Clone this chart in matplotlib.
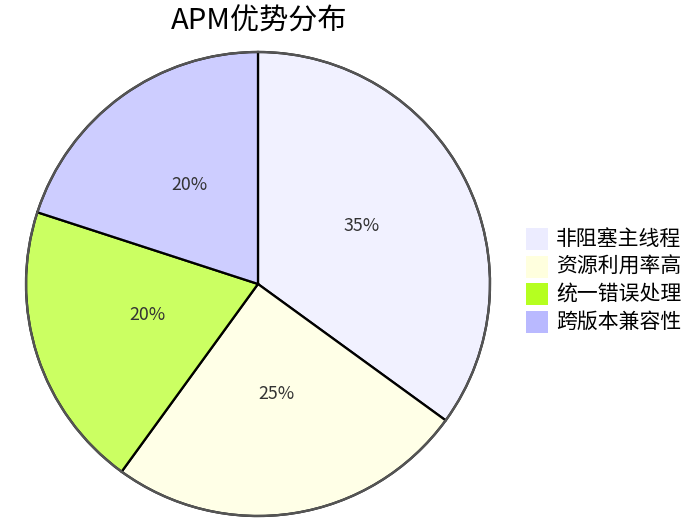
import matplotlib.pyplot as plt
from matplotlib.colors import to_rgba
from matplotlib.patches import Circle, Rectangle

plt.rcParams['font.family'] = ['Noto Sans CJK SC', 'DejaVu Sans']

title = 'APM优势分布'
labels = ['非阻塞主线程', '资源利用率高', '统一错误处理', '跨版本兼容性']
values = [35, 25, 20, 20]
colors = ['#ececff', '#ffffde', '#b5ff20', '#b9b9ff']

W, H = 694, 527
fig = plt.figure(figsize=(W / 100, H / 100), dpi=100)
ax = fig.add_axes([0, 0, 1, 1])

cx, cy, r = 258, H - 284, 232

wedges, texts, autotexts = ax.pie(
    values,
    colors=[to_rgba(c, 0.7) for c in colors],
    startangle=90,
    counterclock=False,
    center=(cx, cy),
    radius=r,
    autopct='%1.0f%%',
    pctdistance=0.5,
    wedgeprops=dict(edgecolor='black', linewidth=1.6),
    textprops=dict(fontsize=12.8, color='#333333'),
)
# nudge the percentage labels up a little
for t in autotexts:
    x, y = t.get_position()
    t.set_position((x, y + 5))

ax.add_patch(Circle((cx, cy), r, fill=False, edgecolor='#555555', linewidth=1.7, zorder=5))

# legend
lx, ly0, size, step = 526, H - 228, 22, 27.5
for i, (lab, col) in enumerate(zip(labels, colors)):
    y = ly0 - i * step
    ax.add_patch(Rectangle((lx, y - size), size, size, facecolor=col, edgecolor=col, linewidth=0))
    ax.text(lx + size + 8, y - size / 2, lab, fontsize=15, color='black', va='center', ha='left')

ax.text(259, H - 22, title, fontsize=21, ha='center', va='center', color='black')

ax.set_xlim(0, W)
ax.set_ylim(0, H)
ax.set_aspect('auto')
ax.axis('off')

fig.savefig('out.png', dpi=100, facecolor='white')
